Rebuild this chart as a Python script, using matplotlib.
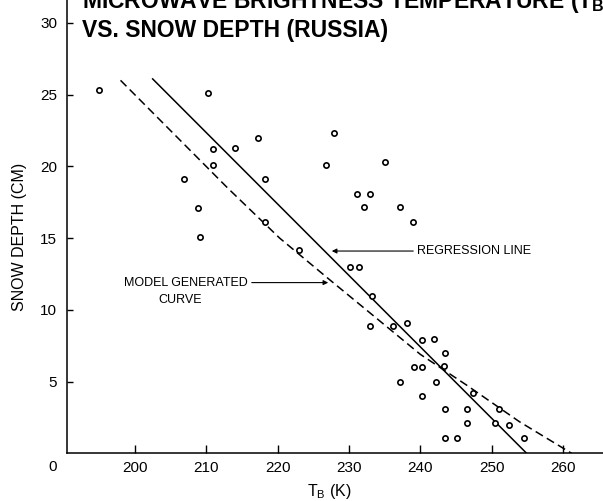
import numpy as np
import matplotlib.pyplot as plt

plt.rcParams['font.family'] = ['Liberation Sans', 'DejaVu Sans']

# observed points (brightness temperature K, snow depth cm)
tb = [195.0, 210.2, 217.2, 210.9, 214.1, 211.0, 206.9, 218.3, 227.9, 226.8,
      235.0, 231.1, 233.0, 232.1, 237.1, 239.0, 208.9, 209.2, 218.3, 223.0,
      230.1, 231.4, 233.2, 233.0, 236.2, 238.1, 240.2, 241.9, 243.4, 239.1,
      240.2, 243.3, 237.2, 242.2, 247.4, 240.3, 243.4, 246.5, 251.0, 250.5,
      252.4, 246.5, 243.4, 245.1, 254.5]
depth = [25.3, 25.1, 22.0, 21.2, 21.3, 20.1, 19.1, 19.1, 22.3, 20.1,
         20.3, 18.1, 18.1, 17.2, 17.2, 16.1, 17.1, 15.1, 16.1, 14.2,
         13.0, 13.0, 11.0, 8.9, 8.9, 9.1, 7.9, 8.0, 7.0, 6.0,
         6.0, 6.1, 5.0, 5.0, 4.2, 4.0, 3.1, 3.1, 3.1, 2.1,
         2.0, 2.1, 1.1, 1.1, 1.1]

# regression line end points
reg_tb = [202.5, 254.9]
reg_depth = [26.1, 0.0]

# model generated curve
model_tb = [198.0, 206.4, 213.0, 220.3, 227.3, 233.9, 240.0, 246.5, 253.9, 261.2]
model_depth = [26.0, 21.8, 18.5, 15.0, 12.1, 9.4, 6.9, 4.75, 2.2, 0.0]

xticks = [200, 210, 220, 230, 240, 250, 260]
yticks = [5, 10, 15, 20, 25, 30]

fig = plt.figure(figsize=(6.03, 5.01), dpi=100)
ax = fig.add_axes([0.1111, 0.0952, 0.8889, 0.9048])

ax.plot(reg_tb, reg_depth, color='black', lw=1.1)
ax.plot(model_tb, model_depth, color='black', lw=1.1, dashes=(5.5, 3))
ax.plot(tb, depth, 'o', ms=3.8, mfc='white', mec='black', mew=1.2, ls='none')

ax.set_xlim(190.5, 265.6)
ax.set_ylim(0, 31.6)
ax.set_xticks(xticks)
ax.set_yticks(yticks)
ax.set_xticklabels([str(t) for t in xticks])
ax.set_yticklabels([str(t) for t in yticks])
ax.tick_params(axis='x', direction='in', length=5.8, width=1, pad=5.5, labelsize=11)
ax.tick_params(axis='y', direction='in', length=4.5, width=1, pad=7, labelsize=11)

for s in ['top', 'right']:
    ax.spines[s].set_visible(False)
ax.spines['left'].set_linewidth(1.1)
ax.spines['bottom'].set_linewidth(1.1)

ax.text(-0.027, -0.03, '0', transform=ax.transAxes, ha='center', va='center', fontsize=11)

ax.set_ylabel('SNOW DEPTH (CM)', fontsize=11.5, va='center')
ax.yaxis.set_label_coords(-0.088, 0.477)
ax.set_xlabel('T$_\\mathregular{B}$ (K)', fontsize=11.5, va='center')
ax.xaxis.set_label_coords(0.489, -0.085)

arrow = dict(arrowstyle='-|>', color='black', lw=0.8, mutation_scale=7, shrinkA=1, shrinkB=0)
ax.annotate('REGRESSION LINE', xy=(227.6, 14.1), xytext=(239.6, 14.1),
            ha='left', va='center', fontsize=9, arrowprops=arrow)
ax.annotate('MODEL GENERATED', xy=(227.1, 11.9), xytext=(215.8, 11.9),
            ha='right', va='center', fontsize=9, arrowprops=arrow)
ax.text(206.4, 10.7, 'CURVE', ha='center', va='center', fontsize=9)

fig.text(0.1355, 0.984, 'MICROWAVE BRIGHTNESS TEMPERATURE (T$_\\mathregular{B}$)',
         fontsize=16.5, fontweight='bold', va='baseline', ha='left')
fig.text(0.1355, 0.9267, 'VS. SNOW DEPTH (RUSSIA)',
         fontsize=16.5, fontweight='bold', va='baseline', ha='left')

fig.savefig('out.png', dpi=100)
